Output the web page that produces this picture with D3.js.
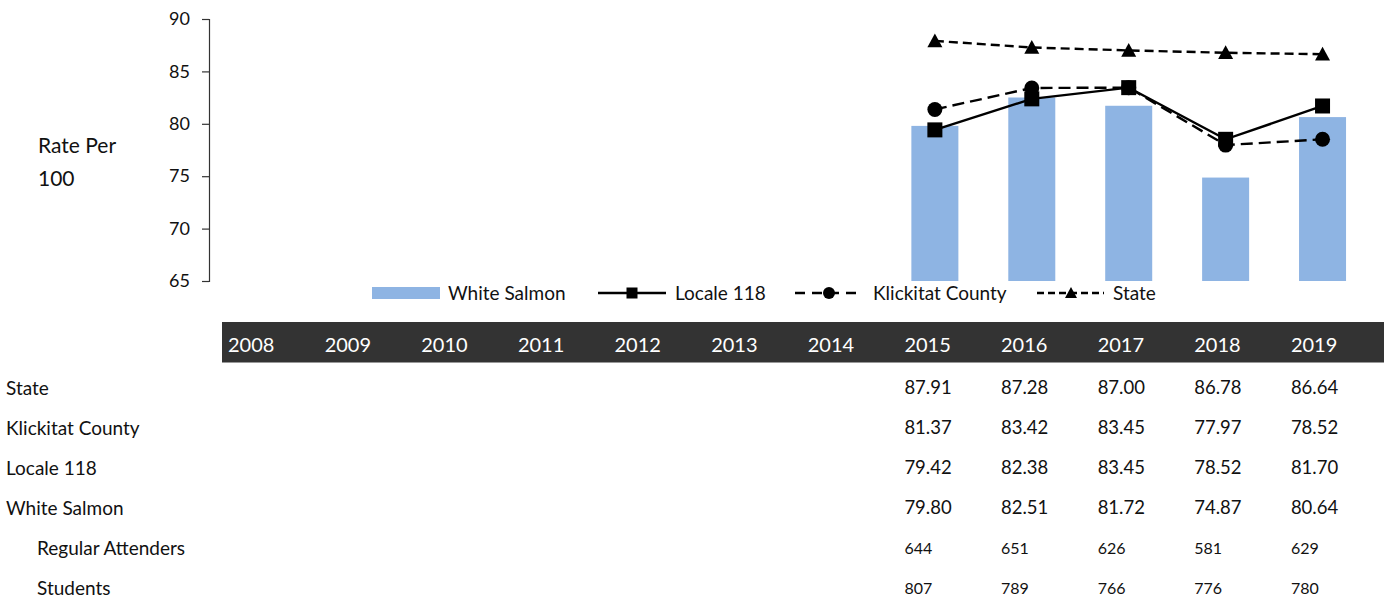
<!DOCTYPE html>
<html><head><meta charset="utf-8">
<script src="https://cdn.jsdelivr.net/npm/d3@7"></script>
<style>
body{margin:0;background:#fff;}
svg{font-family:Lato,"Open Sans",sans-serif;}
</style></head>
<body><svg id="c" width="1387" height="602"></svg>
<script>
const years = ["2008","2009","2010","2011","2012","2013","2014","2015","2016","2017","2018","2019"];
const whiteSalmon = [null,null,null,null,null,null,null,79.80,82.51,81.72,74.87,80.64];
const locale118 = [null,null,null,null,null,null,null,79.42,82.38,83.45,78.52,81.70];
const klickitat = [null,null,null,null,null,null,null,81.37,83.42,83.45,77.97,78.52];
const stateVals = [null,null,null,null,null,null,null,87.91,87.28,87.00,86.78,86.64];
const regularAttenders = [null,null,null,null,null,null,null,644,651,626,581,629];
const students = [null,null,null,null,null,null,null,807,789,766,776,780];
const yTicks = [65,70,75,80,85,90];

const svg = d3.select("#c");
const x = d3.scaleBand().domain(years).range([208,1371]).padding(0);
const y = d3.scaleLinear().domain([65,90]).range([281,19]);
const bw = x.bandwidth();
const cx = (i)=> x(years[i]) + bw/2;

// y axis
const ax = svg.append("g").attr("transform","translate(209,0)")
  .call(d3.axisLeft(y).tickValues(yTicks).tickSize(7).tickPadding(12).tickFormat(d3.format("d")));
ax.select(".domain").attr("stroke","#333").attr("stroke-width",1.2);
ax.selectAll(".tick line").attr("stroke","#333").attr("stroke-width",1.2);
ax.selectAll(".tick text").attr("font-family","Lato").attr("font-size",18).attr("fill","#111");

svg.append("text").attr("x",38).attr("y",153).attr("font-size",21).attr("fill","#111").text("Rate Per");
svg.append("text").attr("x",38).attr("y",186).attr("font-size",21).attr("fill","#111").text("100");

// bars
svg.append("g").selectAll("rect").data(whiteSalmon.map((v,i)=>({v,i})).filter(d=>d.v!=null))
 .join("rect").attr("x",d=>x(years[d.i])+bw*0.2575).attr("width",bw*0.485)
 .attr("y",d=>y(d.v)).attr("height",d=>y(65)-y(d.v)).attr("fill","#8EB4E3");

function series(vals, dash, marker){
  const pts = vals.map((v,i)=>({v,i})).filter(d=>d.v!=null);
  const line = d3.line().x(d=>cx(d.i)).y(d=>y(d.v));
  svg.append("path").attr("d",line(pts)).attr("fill","none").attr("stroke","#000")
    .attr("stroke-width",2.4).attr("stroke-dasharray",dash);
  const g = svg.append("g");
  pts.forEach(d=>marker(g, cx(d.i), y(d.v), 15));
}
const square=(g,px,py,s)=>g.append("rect").attr("x",px-s/2).attr("y",py-s/2).attr("width",s).attr("height",s).attr("fill","#000");
const circle=(g,px,py,s)=>g.append("circle").attr("cx",px).attr("cy",py).attr("r",s/2).attr("fill","#000");
const tri=(g,px,py,s)=>g.append("path").attr("d",`M${px},${py-s*0.5}L${px+s/2},${py+s*0.42}L${px-s/2},${py+s*0.42}Z`).attr("fill","#000");

series(stateVals,"9,5",tri);
series(klickitat,"12,6",circle);
series(locale118,null,square);

// legend
const ly = 293;
const lg = svg.append("g").attr("font-size",19).attr("fill","#111");
lg.append("rect").attr("x",372).attr("y",287).attr("width",68).attr("height",12).attr("fill","#8EB4E3");
lg.append("text").attr("x",448).attr("y",ly).attr("dy","0.35em").text("White Salmon");
lg.append("line").attr("x1",598).attr("x2",666).attr("y1",ly).attr("y2",ly).attr("stroke","#000").attr("stroke-width",2.4);
square(lg,632,ly,11);
lg.append("text").attr("x",675).attr("y",ly).attr("dy","0.35em").text("Locale 118");
lg.append("line").attr("x1",795).attr("x2",862).attr("y1",ly).attr("y2",ly).attr("stroke","#000").attr("stroke-width",2.4).attr("stroke-dasharray","10,7");
circle(lg,829,ly,12);
lg.append("text").attr("x",873).attr("y",ly).attr("dy","0.35em").text("Klickitat County");
lg.append("line").attr("x1",1037).attr("x2",1104).attr("y1",ly).attr("y2",ly).attr("stroke","#000").attr("stroke-width",2.4).attr("stroke-dasharray","7,4");
tri(lg,1071,ly,12);
lg.append("text").attr("x",1113).attr("y",ly).attr("dy","0.35em").text("State");

// table
const tx = d3.scaleBand().domain(years).range([220,1379.5]);
svg.append("rect").attr("x",222).attr("y",322).attr("width",1162).attr("height",40.5).attr("fill","#333333");
svg.append("g").selectAll("text").data(years).join("text")
  .attr("x",d=>tx(d)+8).attr("y",352).attr("font-size",20).attr("fill","#fff").text(d=>d);

const rows = [
  {label:"State", vals:stateVals, fmt:d3.format(".2f"), indent:false, size:18.5},
  {label:"Klickitat County", vals:klickitat, fmt:d3.format(".2f"), indent:false, size:18.5},
  {label:"Locale 118", vals:locale118, fmt:d3.format(".2f"), indent:false, size:18.5},
  {label:"White Salmon", vals:whiteSalmon, fmt:d3.format(".2f"), indent:false, size:18.5},
  {label:"Regular Attenders", vals:regularAttenders, fmt:d3.format("d"), indent:true, size:16},
  {label:"Students", vals:students, fmt:d3.format("d"), indent:true, size:16}
];
rows.forEach((r,k)=>{
  const yy = 388 + k*40;
  svg.append("text").attr("x",r.indent?37:6).attr("y",yy).attr("dy","0.35em")
    .attr("font-size",19).attr("fill","#111").text(r.label);
  svg.append("g").selectAll("text").data(r.vals.map((v,i)=>({v,i})).filter(d=>d.v!=null)).join("text")
    .attr("x",d=>tx(years[d.i])+8).attr("y",yy).attr("dy","0.35em")
    .attr("font-size",r.size).attr("fill","#111").text(d=>r.fmt(d.v));
});
</script></body></html>
